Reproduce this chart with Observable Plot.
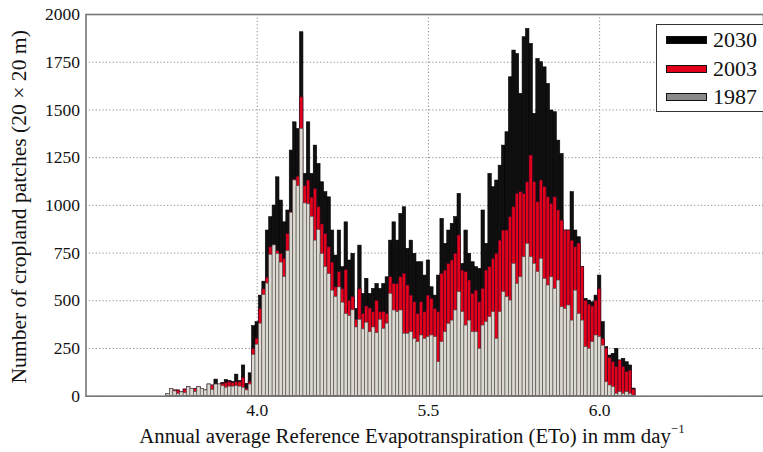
<!DOCTYPE html>
<html><head><meta charset="utf-8">
<script src="https://cdn.jsdelivr.net/npm/d3@7"></script>
<script src="https://cdn.jsdelivr.net/npm/@observablehq/plot@0.6"></script>
<style>
body{margin:0;background:#fff;}
#wrap{position:relative;width:763px;height:452px;overflow:hidden;font-family:"Liberation Serif","Times New Roman",serif;color:#111;}
#xlabel{position:absolute;left:0;width:824px;top:424px;text-align:center;font-size:20.8px;white-space:nowrap;}
#xlabel sup{font-size:13px;position:relative;top:-3px;vertical-align:top;}
#legend{position:absolute;left:656px;top:24px;width:120px;height:88px;border:1.4px solid #333;background:#fff;box-sizing:border-box;}
.lrow{position:absolute;left:9px;height:26px;font-size:22px;line-height:26px;}
.sw{position:absolute;left:0;top:9px;width:41px;height:8px;box-sizing:border-box;border:1.2px solid #111;}
.lt{position:absolute;left:47px;top:0;}
</style></head><body><div id="wrap"></div>
<script>
// bin centres start at 3.48 with width 0.02 (ETo, mm/day)
const binStart = 3.48, binWidth = 0.02;
const years = ["2030", "2003", "1987"];
const colors = {"2030": "#101010", "2003": "#e2001a", "1987": "#dcd9d1"};
const strokes = {"2030": "#000000", "2003": "#3a0a2a", "1987": "#505050"};
const swatchColors = {"2030": "#000000", "2003": "#e2001a", "1987": "#8a8a8a"};
const xTicks = [4, 5, 6];
const xTickLabels = ["4.0", "5.5", "6.0"];
const yTicks = [0, 250, 500, 750, 1000, 1250, 1500, 1750, 2000];

const v1987 = [12,38,25,12,20,15,47,38,21,47,38,30,61,33,61,61,52,44,50,50,52,50,44,30,61,
216,270,380,530,590,740,790,745,700,625,760,960,1130,1100,1400,1010,1005,940,815,870,745,676,640,553,520,570,490,430,420,450,360,400,350,385,335,360,330,400,
353,380,536,449,440,449,327,327,335,300,283,318,300,309,318,309,178,
283,335,379,396,449,545,440,370,396,335,335,248,370,388,414,440,300,440,545,519,501,693,588,623,728,798,728,693,650,719,615,580,623,562,606,466,457,475,396,553,431,396,257,248,283,318,309,265,73,56,47,12,21,12,21,12,3];
const v2003 = [12,38,30,30,20,35,47,38,38,47,38,30,61,56,61,61,65,68,73,68,73,73,96,38,75,
248,300,457,560,620,780,790,760,746,720,850,964,1135,1150,1566,1100,1130,1040,1085,990,900,850,780,700,570,650,560,660,500,520,400,560,430,470,460,440,500,440,
440,431,623,588,588,623,641,580,527,492,431,492,440,527,510,457,440,
641,658,693,711,746,842,658,650,606,536,553,492,562,658,676,719,746,815,868,868,938,990,1060,1069,1060,1121,1261,1121,1016,1130,1095,1042,1007,1042,973,920,868,868,815,780,800,676,500,480,470,500,560,300,250,200,178,152,187,152,126,134,35];
const v2030 = [12,38,30,30,20,35,47,38,38,47,38,30,61,56,87,61,70,85,80,75,113,80,161,65,120,
367,388,527,600,868,938,999,1147,1025,911,973,1287,1435,1400,1907,1165,1435,1165,1313,1217,1121,1069,1042,868,737,868,676,911,711,746,457,789,536,615,536,562,588,562,
588,623,815,911,815,955,990,772,815,746,702,702,632,711,571,527,632,
929,798,868,903,938,1060,693,868,746,702,676,667,973,798,1165,1095,1130,1208,1313,1383,1671,1811,1793,1584,1881,1924,1846,1479,1767,1750,1723,1636,1497,1488,1339,1269,868,868,1069,868,833,676,510,501,492,527,632,388,257,213,222,248,187,196,178,161,40];

const series = {"2030": v2030, "2003": v2003, "1987": v1987};
const rows = years.flatMap(yr => series[yr].map((v, k) => {
  const c = binStart + k * binWidth;
  return {year: yr, x1: c - binWidth / 2, x2: c + binWidth / 2, value: v};
}));

const font = "'Liberation Serif', 'Times New Roman', serif";
const chart = Plot.plot({
  width: 763, height: 452,
  marginLeft: 85.5, marginRight: 0, marginTop: 14, marginBottom: 56.3,
  style: {fontFamily: font, fontSize: "17px", color: "#111", background: "transparent"},
  x: {domain: [3, 6.957], ticks: xTicks},
  y: {domain: [0, 2000], ticks: yTicks},
  marks: [
    Plot.gridX(xTicks, {stroke: "#8a8a8a", strokeOpacity: 1, strokeDasharray: "1.2,2.2", strokeWidth: 1}),
    Plot.gridY(yTicks, {stroke: "#8a8a8a", strokeOpacity: 1, strokeDasharray: "1.2,2.2", strokeWidth: 1}),
    ...years.map(yr => Plot.rectY(rows.filter(d => d.year === yr), {
      x1: "x1", x2: "x2", y1: 0, y2: "value",
      fill: colors[yr], stroke: strokes[yr], strokeWidth: 0.6
    })),
    Plot.frame({stroke: "#777", strokeWidth: 1.6}),
    Plot.axisX(xTicks, {tickSize: 0, tickPadding: 7, fontSize: 17.5, label: null,
      tickFormat: d => xTickLabels[xTicks.indexOf(d)]}),
    Plot.axisY(yTicks, {tickSize: 0, tickPadding: 6, fontSize: 17.5, label: null,
      tickFormat: d => String(d)}),
    Plot.text(["Number of cropland patches (20 × 20 m)"], {
      frameAnchor: "left", dx: -66.5, dy: 1.5, rotate: -90, textAnchor: "middle", fontSize: 21.6, fill: "#111"
    })
  ]
});

const wrap = document.getElementById("wrap");
wrap.appendChild(chart);
d3.select(chart).style("font-family", font);

const xl = document.createElement("div");
xl.id = "xlabel";
xl.innerHTML = "Annual average Reference Evapotranspiration (ETo) in mm day<sup>−1</sup>";
wrap.appendChild(xl);

const lg = document.createElement("div");
lg.id = "legend";
years.forEach((yr, j) => {
  const r = document.createElement("div");
  r.className = "lrow";
  r.style.top = (2 + j * 28.5) + "px";
  r.innerHTML = `<div class="sw" style="background:${swatchColors[yr]}"></div><div class="lt">${yr}</div>`;
  lg.appendChild(r);
});
wrap.appendChild(lg);
</script></body></html>
